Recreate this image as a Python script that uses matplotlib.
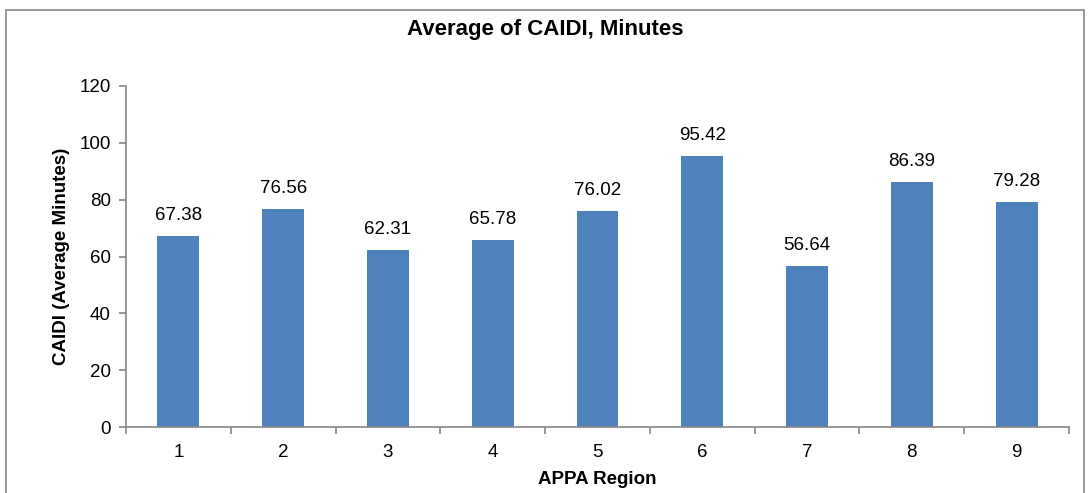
import matplotlib
matplotlib.use("Agg")
import matplotlib.pyplot as plt
from matplotlib.patches import Rectangle
import numpy as np

plt.rcParams['font.family'] = ['Liberation Sans', 'DejaVu Sans']

regions = ['1', '2', '3', '4', '5', '6', '7', '8', '9']
caidi = [67.38, 76.56, 62.31, 65.78, 76.02, 95.42, 56.64, 86.39, 79.28]
y_ticks = [0, 20, 40, 60, 80, 100, 120]

bar_color = '#4F81BD'
axis_gray = '#868686'
fs = 13.5

fig = plt.figure(figsize=(10.9, 4.93), dpi=100)
fig.patches.append(Rectangle((6 / 1090, -0.05), 1078 / 1090, 1.05 - 10 / 493,
                             transform=fig.transFigure, fill=False,
                             edgecolor=axis_gray, linewidth=1.2))

ax = fig.add_axes([126 / 1090, 1 - 427 / 493, (1069 - 126) / 1090, (427 - 86) / 493])
x = np.arange(len(regions))
bars = ax.bar(x, caidi, width=0.4, color=bar_color, zorder=2)

for xi, v in zip(x, caidi):
    ax.annotate(f"{v:.2f}", (xi, v), xytext=(0, 11.5), textcoords='offset points',
                ha='center', va='baseline', fontsize=fs)

ax.set_xlim(-0.5, len(regions) - 0.5)
ax.set_ylim(0, 120)
ax.set_yticks(y_ticks)
ax.set_yticklabels([str(t) for t in y_ticks], fontsize=fs)

# category labels centered, tick marks between categories
ax.set_xticks(np.arange(-0.5, len(regions), 1.0))
ax.set_xticklabels([])
ax.set_xticks(x, minor=True)
ax.set_xticklabels(regions, minor=True, fontsize=fs)
ax.tick_params(axis='x', which='minor', length=0, pad=12)
ax.tick_params(axis='x', which='major', length=5, color=axis_gray, direction='out', width=1.2)
ax.tick_params(axis='y', length=5, color=axis_gray, direction='out', width=1.2, pad=6)

for side in ['top', 'right']:
    ax.spines[side].set_visible(False)
for side in ['left', 'bottom']:
    ax.spines[side].set_color(axis_gray)
    ax.spines[side].set_linewidth(1.2)

ax.set_ylabel('CAIDI (Average Minutes)', fontsize=fs, fontweight='bold')
ax.yaxis.set_label_coords((62 - 126) / (1069 - 126), 0.5)
ax.set_xlabel('APPA Region', fontsize=fs, fontweight='bold')
ax.xaxis.set_label_coords(0.5, -(479 - 427) / (427 - 86))
ax.xaxis.label.set_va('center')
ax.yaxis.label.set_va('center')
fig.text(0.5, 1 - 29 / 493, 'Average of CAIDI, Minutes', ha='center', va='center',
         fontsize=16, fontweight='bold')

fig.savefig('out.png', dpi=100)
